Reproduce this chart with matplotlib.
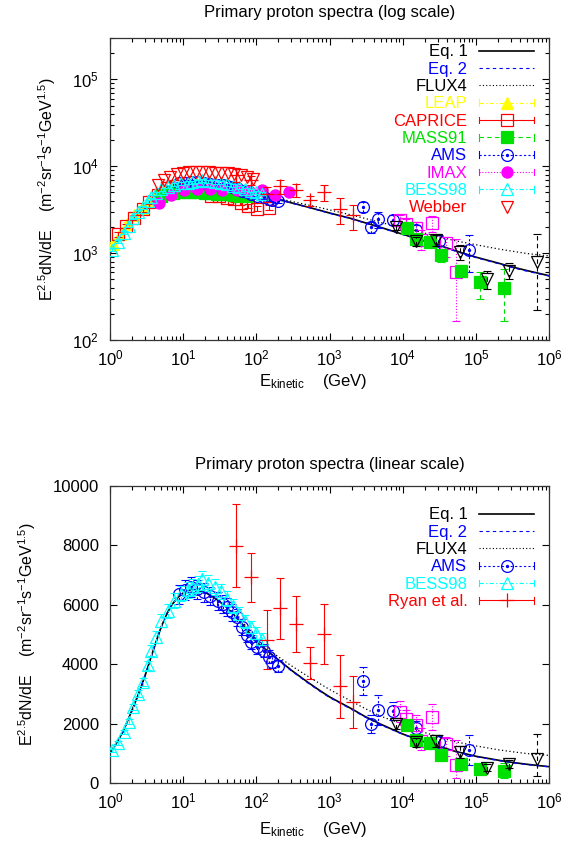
import numpy as np
import matplotlib
matplotlib.use('Agg')
import matplotlib.pyplot as plt
from matplotlib.lines import Line2D
from matplotlib.legend_handler import HandlerBase
from matplotlib.ticker import LogLocator, NullFormatter, MultipleLocator

plt.rcParams['font.family'] = ['Liberation Sans', 'DejaVu Sans']
plt.rcParams['mathtext.fontset'] = 'custom'
plt.rcParams['mathtext.rm'] = 'Liberation Sans'
plt.rcParams['mathtext.it'] = 'Liberation Sans:italic'
plt.rcParams['mathtext.bf'] = 'Liberation Sans:bold'

# ---------------- data ----------------
curve_E = [1, 1.25, 1.5, 2, 2.5, 3, 4, 5, 6, 7, 8.5, 10, 12.5, 15, 20, 25, 30, 40, 50, 70,
           100, 150, 200, 300, 500, 700, 1e3, 2e3, 3e3, 5e3, 1e4, 2e4, 3e4, 5e4, 1e5, 2e5,
           3e5, 5e5, 1e6]
eq1 = [1000, 1380, 1720, 2450, 3050, 3600, 4550, 5250, 5700, 6000, 6250, 6400, 6500, 6500,
       6420, 6280, 6150, 5900, 5650, 5250, 4750, 4400, 4150, 3800, 3400, 3150, 2900, 2500,
       2250, 1980, 1650, 1380, 1250, 1080, 900, 770, 700, 630, 550]
eq2 = [1000, 1370, 1710, 2430, 3030, 3590, 4540, 5240, 5700, 6000, 6260, 6420, 6520, 6520,
       6440, 6300, 6160, 5900, 5640, 5230, 4730, 4380, 4130, 3780, 3380, 3130, 2880, 2480,
       2230, 1960, 1640, 1370, 1240, 1070, 890, 760, 690, 620, 545]
flux4 = [1000, 1380, 1720, 2450, 3050, 3600, 4550, 5250, 5700, 6000, 6250, 6400, 6500, 6500,
         6420, 6290, 6170, 5930, 5700, 5320, 4850, 4480, 4250, 3950, 3600, 3380, 3150, 2750,
         2520, 2250, 1980, 1700, 1560, 1400, 1250, 1120, 1060, 990, 930]

leap_E = [1.1, 1.35, 1.7, 2.1, 2.7, 3.4, 4.3, 5.5, 7, 9, 12, 16]
leap_v = [1280, 1650, 2150, 2750, 3350, 4050, 4700, 5250, 5700, 6000, 6150, 6150]

caprice_E = [1.3, 1.65, 2.15, 2.8, 3.45, 4.5, 6.1, 8, 10.5, 13.5, 17.5, 23.8, 31, 40, 49, 61, 78, 103, 150]
caprice_v = [1650, 2070, 2560, 3190, 3900, 4700, 5600, 6000, 6000, 5800, 5500, 4600, 4500,
             4300, 4150, 3800, 3500, 3250, 3350]

mass91_E = [5, 6, 7.2, 8.5, 10, 12, 14, 17, 20, 24, 29, 35, 42, 50, 60, 75]
mass91_v = [4500, 4750, 4900, 5000, 5050, 5050, 5050, 5000, 4950, 4900, 4850, 4800, 4750,
            4700, 4600, 4500]

ams_E = [8.8, 10.5, 12.7, 15.5, 19, 23.5, 29.5, 35, 40, 47, 55, 64, 74, 84, 103, 127, 150, 166, 195]
ams_v = [6350, 6500, 6590, 6520, 6420, 6300, 6140, 6020, 5920, 5750, 5580, 5250, 5000, 4750,
         4570, 4450, 4250, 4070, 3950]

imax_E = [4.7, 6.8, 10.3, 15.6, 23, 34, 55, 80, 121, 180, 280]
imax_v = [3800, 4730, 5300, 5470, 5450, 5400, 5300, 5250, 5380, 4730, 5020]

bess_E = [1.05, 1.27, 1.57, 1.8, 2.08, 2.43, 2.85, 3.26, 3.63, 4.24, 4.97, 6.12, 7.5, 9.3,
          11.5, 13.4, 16, 18.3, 22, 27, 33, 40, 48, 58, 70, 85, 100, 120]
bess_v = [1100, 1350, 1720, 2060, 2560, 3010, 3400, 3960, 4460, 4910, 5470, 5800, 6140, 6370,
          6500, 6590, 6700, 6870, 6750, 6600, 6450, 6200, 5950, 5700, 5450, 5250, 5050, 4850]

webber_E = [4.5, 5.5, 6.7, 8.2, 10, 12.2, 15, 18.3, 22.4, 27, 33, 41, 50, 61, 75, 90]
webber_v = [6100, 6900, 7600, 8100, 8400, 8500, 8500, 8500, 8500, 8450, 8400, 8300, 8200,
            7900, 7500, 7100]

ryan_E = [52, 84, 138, 209, 345, 540, 830, 1380, 2080]
ryan_v = [7990, 6920, 4820, 5880, 5340, 4040, 5020, 3250, 2730]
ryan_err = [1400, 840, 990, 1030, 940, 540, 1015, 1060, 880]

# high-energy unlabeled sets
circ_E = [2850, 3650, 4600, 7300, 15000, 30900, 80000]
circ_v = [3430, 2000, 2450, 2420, 1840, 1370, 1100]
circ_err = [480, 300, 500, 300, 250, 250, 500]

msq_E = [9300, 11000, 15000, 18000, 25500, 39000, 53000]
msq_v = [2400, 2150, 1950, 1400, 2220, 1300, 600]
msq_lo = [350, 300, 350, 300, 450, 400, 435]
msq_hi = [350, 300, 350, 450, 450, 250, 850]

gsq_E = [11500, 15000, 24000, 33000, 63000, 113000, 242000]
gsq_v = [1960, 1460, 1350, 940, 630, 470, 395]
gsq_lo = [150, 150, 150, 150, 100, 170, 230]
gsq_hi = [150, 150, 150, 150, 100, 130, 270]

tri_E = [8000, 15000, 29000, 60000, 141000, 285000, 690000]
tri_v = [1980, 1370, 1420, 1040, 510, 630, 800]
tri_lo = [150, 150, 200, 200, 120, 130, 580]
tri_hi = [150, 150, 200, 200, 120, 130, 860]

# ---------------- styles ----------------
BLACK = '#000000'
BLUE = '#0000ff'
RED = '#ff0000'
GREEN = '#00e000'
MAGENTA = '#ff00ff'
CYAN = '#00ffff'
YELLOW = '#ffff00'

DASH = (0, (4, 3))
DOT = (0, (1, 1.6))
ADOT = (0, (2, 2))
DDOT = (0, (4, 2, 1, 2))


def eb(ax, x, y, err, color, ls, marker, filled, ms, z, dot=False):
    x = np.asarray(x, float)
    y = np.asarray(y, float)
    c = ax.errorbar(x, y, yerr=err, fmt='none', ecolor=color, elinewidth=0.8,
                    capsize=2.6, capthick=0.8, zorder=z)
    for lc in c[2]:
        lc.set_linestyle(ls)
    if marker is not None:
        ax.plot(x, y, ls='none', marker=marker, ms=ms, mfc=color if filled else 'none',
                mec=color, mew=0.9, zorder=z + 0.1)
    if dot:
        ax.plot(x, y, ls='none', marker='o', ms=1.4, color=color, zorder=z + 0.2)


def frac(v, f):
    return np.asarray(v, float) * f


class GPKey(HandlerBase):
    def __init__(self, color, ls='-', marker=None, filled=False, ms=8.0, caps=False,
                 line=True, dot=False, lw=0.8):
        super().__init__()
        self.c = color; self.ls = ls; self.m = marker; self.f = filled
        self.ms = ms; self.caps = caps; self.line = line; self.dot = dot; self.lw = lw

    def create_artists(self, legend, orig_handle, xdescent, ydescent, width, height,
                       fontsize, trans):
        x0 = -xdescent
        x1 = -xdescent + width
        xm = 0.5 * (x0 + x1)
        y = (height - ydescent) / 2.0
        arts = []
        if self.line:
            arts.append(Line2D([x0, x1], [y, y], color=self.c, ls=self.ls, lw=self.lw))
        if self.caps:
            h = 2.4
            arts.append(Line2D([x0, x0], [y - h, y + h], color=self.c, lw=0.8))
            arts.append(Line2D([x1, x1], [y - h, y + h], color=self.c, lw=0.8))
        if self.m is not None:
            arts.append(Line2D([xm], [y], ls='none', marker=self.m, ms=self.ms,
                               mfc=self.c if self.f else 'none', mec=self.c, mew=0.9))
        if self.dot:
            arts.append(Line2D([xm], [y], ls='none', marker='o', ms=1.4, color=self.c))
        for a in arts:
            a.set_transform(trans)
        return arts


def style_axes(ax, log_y):
    ax.set_xscale('log')
    ax.set_xlim(1, 1e6)
    ax.xaxis.set_major_locator(LogLocator(base=10, numticks=10))
    ax.xaxis.set_minor_locator(LogLocator(base=10, subs=np.arange(2, 10), numticks=20))
    ax.xaxis.set_minor_formatter(NullFormatter())
    if log_y:
        ax.set_yscale('log')
        ax.set_ylim(100, 3e5)
        ax.yaxis.set_major_locator(LogLocator(base=10, numticks=10))
        ax.yaxis.set_minor_locator(LogLocator(base=10, subs=np.arange(2, 10), numticks=20))
        ax.yaxis.set_minor_formatter(NullFormatter())
    else:
        ax.set_ylim(0, 10000)
        ax.yaxis.set_major_locator(MultipleLocator(2000))
    ax.tick_params(which='both', direction='in', top=True, right=True, labelsize=12,
                   colors='#000000', width=0.8)
    ax.tick_params(which='major', length=5)
    ax.tick_params(which='minor', length=2.6)
    for s in ax.spines.values():
        s.set_linewidth(0.9)
        s.set_color('#333333')
    ax.tick_params(axis='x', pad=6)
    ax.tick_params(axis='y', pad=8)


fig = plt.figure(figsize=(5.76, 8.43), dpi=100)
W, H = 576.0, 843.0
ax1 = fig.add_axes([110 / W, 1 - 340 / H, 439 / W, 302 / H])
ax2 = fig.add_axes([110 / W, 1 - 783 / H, 439 / W, 297 / H])

ylab = r'E$^{2.5}$dN/dE    (m$^{-2}$sr$^{-1}$s$^{-1}$GeV$^{1.5}$)'
xlab = r'E$_{\rm kinetic}$    (GeV)'

for ax, logy in ((ax1, True), (ax2, False)):
    style_axes(ax, logy)
    ax.plot(curve_E, eq1, color=BLACK, lw=1.2, zorder=2)
    ax.plot(curve_E, eq2, color=BLUE, lw=0.9, ls=(0, (3, 3)), zorder=2.1)
    ax.plot(curve_E, flux4, color=BLACK, lw=0.9, ls=(0, (1, 2)), zorder=2.2)

# ---- top (log) plot ----
eb(ax1, leap_E, leap_v, frac(leap_v, 0.05), YELLOW, DDOT, '^', True, 8, 3)
eb(ax1, caprice_E, caprice_v, frac(caprice_v, 0.06), RED, '-', 's', False, 8.5, 4)
eb(ax1, mass91_E, mass91_v, frac(mass91_v, 0.05), GREEN, DASH, 's', True, 8.5, 5)
eb(ax1, ams_E, ams_v, frac(ams_v, 0.05), BLUE, ADOT, 'o', False, 8.5, 6, dot=True)
eb(ax1, imax_E, imax_v, frac(imax_v, 0.06), MAGENTA, DOT, 'o', True, 8, 7)
eb(ax1, bess_E, bess_v, frac(bess_v, 0.04), CYAN, DDOT, '^', False, 8, 8)
ax1.plot(webber_E, webber_v, ls='none', marker='v', ms=8.5, mfc='none', mec=RED, mew=0.9, zorder=9)
for ax in (ax1, ax2):
    eb(ax, ryan_E, ryan_v, ryan_err, RED, '-', '+', False, 10, 10)
    eb(ax, circ_E, circ_v, circ_err, BLUE, ADOT, 'o', False, 8.5, 11, dot=True)
    eb(ax, msq_E, msq_v, [msq_lo, msq_hi], MAGENTA, DOT, 's', False, 8.5, 12)
    eb(ax, gsq_E, gsq_v, [gsq_lo, gsq_hi], GREEN, DASH, 's', True, 8.5, 13)
    eb(ax, tri_E, tri_v, [tri_lo, tri_hi], BLACK, DASH, 'v', False, 8.5, 14)

# ---- bottom (linear) plot ----
eb(ax2, ams_E, ams_v, frac(ams_v, 0.05), BLUE, ADOT, 'o', False, 8.5, 6, dot=True)
eb(ax2, bess_E, bess_v, frac(bess_v, 0.04), CYAN, DDOT, '^', False, 8, 8)

# ---- titles / labels ----
ax1.set_title('Primary proton spectra (log scale)', fontsize=12, pad=15)
ax2.set_title('Primary proton spectra (linear scale)', fontsize=12, pad=12)
for ax, lx in ((ax1, -0.118), (ax2, -0.164)):
    ax.set_ylabel(ylab, fontsize=11.5)
    ax.yaxis.set_label_coords(lx, 0.5)
    ax.set_xlabel(xlab, fontsize=12)
ax1.xaxis.set_label_coords(0.462, -0.105)
ax2.xaxis.set_label_coords(0.462, -0.125)

# ---- legends ----
def make_legend(ax, entries, top):
    handles, labels, hmap = [], [], {}
    for lab, col, kw in entries:
        h = Line2D([], [])
        handles.append(h)
        labels.append(lab)
        hmap[h] = GPKey(col, **kw)
    leg = ax.legend(handles, labels, handler_map=hmap, loc='upper right',
                    bbox_to_anchor=(0.966, top), borderaxespad=0, borderpad=0,
                    frameon=False, markerfirst=False, fontsize=12, handlelength=3.3,
                    handletextpad=0.7, labelspacing=0.14, handleheight=0.7)
    for t, (lab, col, kw) in zip(leg.get_texts(), entries):
        t.set_color(col)
    leg.set_zorder(30)
    return leg

top_entries = [
    ('Eq. 1', BLACK, dict(ls='-', lw=1.2)),
    ('Eq. 2', BLUE, dict(ls=(0, (3, 3)))),
    ('FLUX4', BLACK, dict(ls=(0, (1, 2)))),
    ('LEAP', YELLOW, dict(ls=DDOT, marker='^', filled=True, caps=True)),
    ('CAPRICE', RED, dict(ls='-', marker='s', ms=8.5, caps=True)),
    ('MASS91', GREEN, dict(ls=DASH, marker='s', filled=True, ms=8.5, caps=True)),
    ('AMS', BLUE, dict(ls=ADOT, marker='o', ms=8.5, caps=True, dot=True)),
    ('IMAX', MAGENTA, dict(ls=DOT, marker='o', filled=True, caps=True)),
    ('BESS98', CYAN, dict(ls=DDOT, marker='^', caps=True)),
    ('Webber', RED, dict(line=False, marker='v', ms=8.5)),
]
bot_entries = [
    ('Eq. 1', BLACK, dict(ls='-', lw=1.2)),
    ('Eq. 2', BLUE, dict(ls=(0, (3, 3)))),
    ('FLUX4', BLACK, dict(ls=(0, (1, 2)))),
    ('AMS', BLUE, dict(ls=ADOT, marker='o', ms=8.5, caps=True, dot=True)),
    ('BESS98', CYAN, dict(ls=DDOT, marker='^', caps=True)),
    ('Ryan et al.', RED, dict(ls='-', marker='+', ms=10, caps=True)),
]
make_legend(ax1, top_entries, 0.979)
make_legend(ax2, bot_entries, 0.928)

fig.savefig('out.png', dpi=100)
